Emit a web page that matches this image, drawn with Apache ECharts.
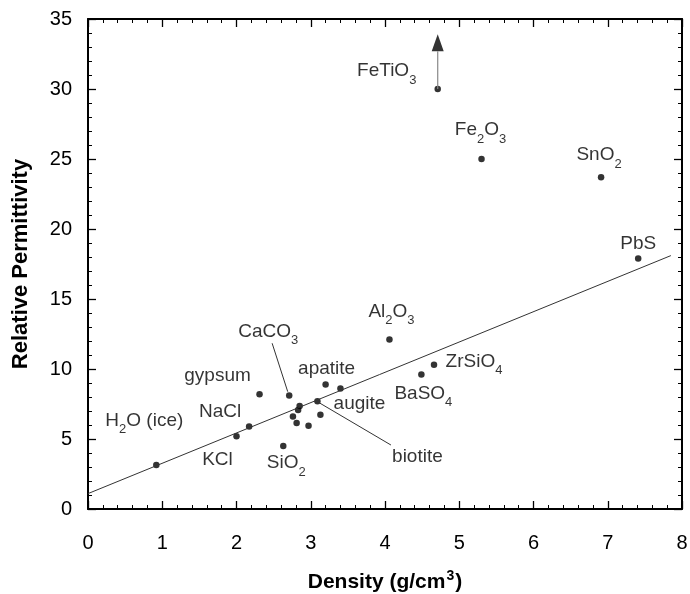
<!DOCTYPE html>
<html>
<head>
<meta charset="utf-8">
<script src="https://cdn.jsdelivr.net/npm/echarts@6/dist/echarts.min.js"></script>
<style>
  html, body { margin: 0; padding: 0; background: #fff; }
  #chart { width: 690px; height: 594px; }
</style>
</head>
<body>
<div id="chart"></div>
<script>
// Named minerals: density (g/cm3) and relative permittivity
const minerals = ['H2O (ice)', 'KCl', 'NaCl', 'gypsum', 'CaCO3', 'SiO2', 'apatite', 'augite',
  'biotite', 'Al2O3', 'BaSO4', 'ZrSiO4', 'FeTiO3', 'Fe2O3', 'SnO2', 'PbS'];
const densities = [0.92, 2.0, 2.17, 2.31, 2.71, 2.63, 3.2, 3.4, 3.09, 4.06, 4.49, 4.66, 4.71, 5.3, 6.91, 7.41];
const permittivities = [3.15, 5.2, 5.9, 8.2, 8.1, 4.5, 8.9, 8.6, 7.7, 12.1, 9.6, 10.3, 30.0, 25.0, 23.7, 17.9];

// Further samples drawn without a name
const otherDensities = [2.85, 2.83, 2.76, 2.81, 2.97, 3.13];
const otherPermittivities = [7.36, 7.07, 6.6, 6.14, 5.95, 6.74];

// Linear trend, given by its two end points
const fitDensity = [0, 7.85];
const fitPermittivity = [1.1, 18.1];

// FeTiO3 lies above the plotted range: arrow tip
const fetioArrowTop = 33.3;

// Axis ranges and tick steps
const xRange = [0, 8];
const xStep = 1;
const yRange = [0, 35];
const yStep = 5;

// Label placement (pixel offsets from each dot)
const labelOffsets = {
  'H2O (ice)': [-12, -44], 'KCl': [-19, 24], 'NaCl': [-29, -15], 'gypsum': [-42, -18],
  'CaCO3': [-21, -64], 'SiO2': [3, 17], 'apatite': [1, -16], 'augite': [19, 15],
  'biotite': [100, 56], 'Al2O3': [2, -28], 'BaSO4': [2, 19], 'ZrSiO4': [40, -3],
  'FeTiO3': [-51, -18], 'Fe2O3': [-1, -29], 'SnO2': [-2, -22], 'PbS': [0, -15]
};
// Leader lines from label to dot
const leaders = {
  'CaCO3': [[2.48, 11.84], [2.69, 8.38]],
  'biotite': [[3.12, 7.57], [4.08, 4.57]]
};

const FONT = '"Liberation Sans", Arial, Helvetica, sans-serif';

// Turn chemical digits into subscript rich-text tokens
function richName(name) {
  return ('{n|' + name.replace(/(\d)/g, '}{s|$1}{n|') + '}').replace(/\{n\|\}/g, '');
}

const namedData = minerals.map((m, i) => ({
  value: [densities[i], permittivities[i]],
  label: {
    show: true,
    position: 'inside',
    offset: labelOffsets[m],
    formatter: richName(m)
  }
}));
const otherData = otherDensities.map((d, i) => [d, otherPermittivities[i]]);
const fitData = fitDensity.map((d, i) => [d, fitPermittivity[i]]);
const fetio = minerals.indexOf('FeTiO3');

const axisCommon = {
  type: 'value',
  axisLine: { show: true, onZero: false, lineStyle: { color: '#000', width: 2 } },
  axisTick: { show: true, inside: true, length: 8, lineStyle: { color: '#000', width: 1.3 } },
  minorTick: { show: true, splitNumber: 5, length: 4, lineStyle: { color: '#000', width: 1 } },
  splitLine: { show: false },
  minorSplitLine: { show: false }
};
const tickFont = { color: '#000', fontFamily: FONT, fontSize: 20 };

const chart = echarts.init(document.getElementById('chart'), null, { renderer: 'canvas' });
chart.setOption({
  animation: false,
  backgroundColor: '#fff',
  grid: { left: 88, right: 8, top: 19, bottom: 85, containLabel: false, outerBoundsMode: 'none' },
  xAxis: [
    Object.assign({}, axisCommon, {
      position: 'bottom', min: xRange[0], max: xRange[1], interval: xStep,
      axisLabel: Object.assign({ margin: 24 }, tickFont),
      name: '{b|Density (g/cm}{p|3}{b|)}', nameLocation: 'middle', nameGap: 60,
      nameTextStyle: {
        color: '#000', fontFamily: FONT, fontSize: 21, fontWeight: 'bold',
        rich: {
          b: { color: '#000', fontFamily: FONT, fontSize: 21, fontWeight: 'bold' },
          p: { color: '#000', fontFamily: FONT, fontSize: 14, fontWeight: 'bold', padding: [0, 1, 12, 1] }
        }
      }
    }),
    Object.assign({}, axisCommon, {
      position: 'top', min: xRange[0], max: xRange[1], interval: xStep,
      axisLabel: { show: false }
    })
  ],
  yAxis: [
    Object.assign({}, axisCommon, {
      position: 'left', min: yRange[0], max: yRange[1], interval: yStep,
      axisLabel: Object.assign({ margin: 16 }, tickFont),
      name: 'Relative Permittivity', nameLocation: 'middle', nameGap: 56,
      nameTextStyle: { color: '#000', fontFamily: FONT, fontSize: 22, fontWeight: 'bold' }
    }),
    Object.assign({}, axisCommon, {
      position: 'right', min: yRange[0], max: yRange[1], interval: yStep,
      axisLabel: { show: false }
    })
  ],
  series: [
    {
      type: 'line', data: fitData, symbol: 'none', silent: true,
      lineStyle: { color: '#333', width: 1 }
    },
    ...Object.keys(leaders).map(k => ({
      type: 'line', data: leaders[k], symbol: 'none', silent: true,
      lineStyle: { color: '#333', width: 1 }
    })),
    {
      type: 'line', symbol: 'none', silent: true,
      data: [[densities[fetio], permittivities[fetio]], [densities[fetio], fetioArrowTop - 0.6]],
      lineStyle: { color: '#888', width: 1.2 }
    },
    {
      type: 'scatter', symbol: 'triangle', symbolSize: [12, 17], silent: true,
      data: [[densities[fetio], fetioArrowTop]],
      itemStyle: { color: '#000' }
    },
    {
      type: 'scatter', symbolSize: 6.5, silent: true,
      data: otherData,
      itemStyle: { color: '#000' }
    },
    {
      type: 'scatter', symbolSize: 6.5, silent: true,
      data: namedData,
      itemStyle: { color: '#000' },
      label: {
        color: '#000', fontFamily: FONT,
        rich: {
          n: { fontSize: 19, color: '#000', fontFamily: FONT },
          s: { fontSize: 13, color: '#000', fontFamily: FONT, padding: [18, 0, 0, 0] }
        }
      }
    }
  ]
});
</script>
</body>
</html>
